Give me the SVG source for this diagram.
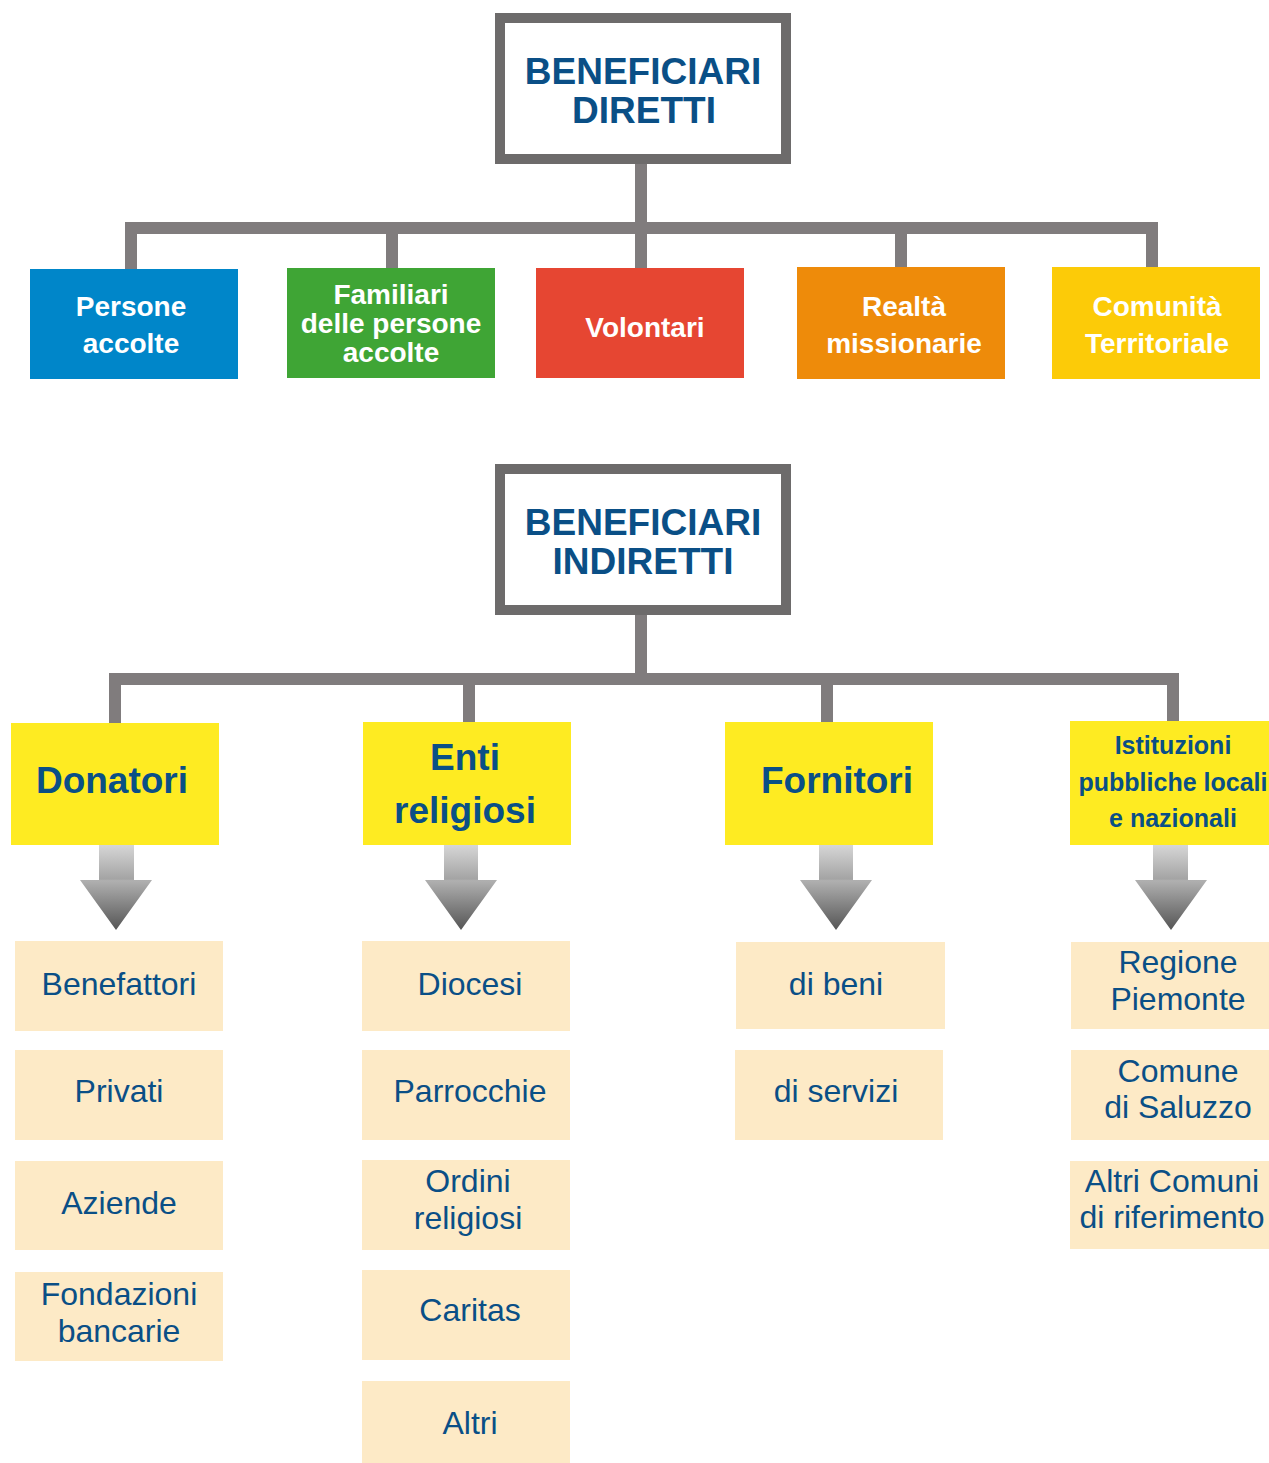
<svg xmlns="http://www.w3.org/2000/svg" width="1269" height="1463" viewBox="0 0 1269 1463">
<style>
.title{fill:#fff;stroke:#6d6b6b;stroke-width:10}
.conn{fill:none;stroke:#807c7d;stroke-width:12;stroke-linejoin:miter}
.hdr{font-family:"Liberation Sans",Arial,sans-serif;font-weight:bold;font-size:37px;fill:#0a4f86;text-anchor:middle}
.wl{font-family:"Liberation Sans",Arial,sans-serif;font-weight:bold;font-size:28px;fill:#fff;text-anchor:middle}
.yb{font-family:"Liberation Sans",Arial,sans-serif;font-weight:bold;font-size:37px;fill:#0a4f86;text-anchor:middle}
.yb2{font-family:"Liberation Sans",Arial,sans-serif;font-weight:bold;font-size:25px;fill:#0a4f86;text-anchor:middle}
.pt{font-family:"Liberation Sans",Arial,sans-serif;font-size:32px;fill:#0a4f86;text-anchor:middle}
.yel{fill:#feeb22}
.pch{fill:#fdeac6}
.arr{fill:url(#ag)}
</style>
<defs>
<linearGradient id="ag" x1="0" y1="0" x2="0" y2="1">
<stop offset="0" stop-color="#d6d6d6"/>
<stop offset="0.4" stop-color="#a4a4a4"/>
<stop offset="0.42" stop-color="#b0b0b0"/>
<stop offset="1" stop-color="#555"/>
</linearGradient>
</defs>

<g id="connectors">
<path class="conn" d="M641,163 V228"/>
<path class="conn" d="M131,269 V228 H1152 V268"/>
<path class="conn" d="M392,228 V268"/>
<path class="conn" d="M641,228 V268"/>
<path class="conn" d="M901,228 V267"/>
<path class="conn" d="M641,614 V679"/>
<path class="conn" d="M115,723 V679 H1173 V721"/>
<path class="conn" d="M469,679 V722"/>
<path class="conn" d="M827,679 V722"/>
<g id="arrows">
<path class="arr" d="M99,845 H134 V880 H152 L116,930 L80,880 H99 Z"/>
<path class="arr" d="M444,845 H478 V880 H497 L461,930 L425,880 H444 Z"/>
<path class="arr" d="M819,845 H853 V880 H872 L836,930 L800,880 H819 Z"/>
<path class="arr" d="M1153,845 H1188 V880 H1207 L1171,930 L1135,880 H1153 Z"/>
</g>
</g>

<g id="diretti">
<rect class="title" x="500" y="18" width="286" height="141"/>
<text class="hdr" x="643" y="84">BENEFICIARI</text>
<text class="hdr" x="644" y="123">DIRETTI</text>
</g>

<g id="persone">
<rect x="30" y="269" width="208" height="110" fill="#0086c9"/>
<text class="wl" x="131" y="316">Persone</text>
<text class="wl" x="131" y="353">accolte</text>
</g>
<g id="familiari">
<rect x="287" y="268" width="208" height="110" fill="#3fa535"/>
<text class="wl" x="391" y="304">Familiari</text>
<text class="wl" x="391" y="333">delle persone</text>
<text class="wl" x="391" y="362">accolte</text>
</g>
<g id="volontari">
<rect x="536" y="268" width="208" height="110" fill="#e64632"/>
<text class="wl" x="645" y="337">Volontari</text>
</g>
<g id="realta">
<rect x="797" y="267" width="208" height="112" fill="#ee8b0a"/>
<text class="wl" x="904" y="316">Realtà</text>
<text class="wl" x="904" y="353">missionarie</text>
</g>
<g id="comunita">
<rect x="1052" y="267" width="208" height="112" fill="#fccb08"/>
<text class="wl" x="1157" y="316">Comunità</text>
<text class="wl" x="1157" y="353">Territoriale</text>
</g>

<g id="indiretti">
<rect class="title" x="500" y="469" width="286" height="141"/>
<text class="hdr" x="643" y="535">BENEFICIARI</text>
<text class="hdr" x="643" y="574">INDIRETTI</text>
</g>

<g id="donatori">
<rect class="yel" x="11" y="723" width="208" height="122"/>
<text class="yb" x="112" y="793">Donatori</text>
</g>
<g id="enti">
<rect class="yel" x="363" y="722" width="208" height="123"/>
<text class="yb" x="465" y="770">Enti</text>
<text class="yb" x="465" y="823">religiosi</text>
</g>
<g id="fornitori">
<rect class="yel" x="725" y="722" width="208" height="123"/>
<text class="yb" x="837" y="793">Fornitori</text>
</g>
<g id="istituzioni">
<rect class="yel" x="1070" y="721" width="199" height="124"/>
<text class="yb2" x="1173" y="754">Istituzioni</text>
<text class="yb2" x="1173" y="791">pubbliche locali</text>
<text class="yb2" x="1173" y="827">e nazionali</text>
</g>

<g id="benefattori"><rect class="pch" x="15" y="941" width="208" height="90"/><text class="pt" x="119" y="995">Benefattori</text></g>
<g id="privati"><rect class="pch" x="15" y="1050" width="208" height="90"/><text class="pt" x="119" y="1102">Privati</text></g>
<g id="aziende"><rect class="pch" x="15" y="1161" width="208" height="89"/><text class="pt" x="119" y="1214">Aziende</text></g>
<g id="fondazioni"><rect class="pch" x="15" y="1272" width="208" height="89"/><text class="pt" x="119" y="1305">Fondazioni</text><text class="pt" x="119" y="1342">bancarie</text></g>

<g id="diocesi"><rect class="pch" x="362" y="941" width="208" height="90"/><text class="pt" x="470" y="995">Diocesi</text></g>
<g id="parrocchie"><rect class="pch" x="362" y="1050" width="208" height="90"/><text class="pt" x="470" y="1102">Parrocchie</text></g>
<g id="ordini"><rect class="pch" x="362" y="1160" width="208" height="90"/><text class="pt" x="468" y="1192">Ordini</text><text class="pt" x="468" y="1229">religiosi</text></g>
<g id="caritas"><rect class="pch" x="362" y="1270" width="208" height="90"/><text class="pt" x="470" y="1321">Caritas</text></g>
<g id="altri"><rect class="pch" x="362" y="1381" width="208" height="82"/><text class="pt" x="470" y="1434">Altri</text></g>

<g id="beni"><rect class="pch" x="736" y="942" width="209" height="87"/><text class="pt" x="836" y="995">di beni</text></g>
<g id="servizi"><rect class="pch" x="735" y="1050" width="208" height="90"/><text class="pt" x="836" y="1102">di servizi</text></g>

<g id="regione"><rect class="pch" x="1071" y="942" width="198" height="87"/><text class="pt" x="1178" y="973">Regione</text><text class="pt" x="1178" y="1010">Piemonte</text></g>
<g id="saluzzo"><rect class="pch" x="1071" y="1050" width="198" height="90"/><text class="pt" x="1178" y="1082">Comune</text><text class="pt" x="1178" y="1118">di Saluzzo</text></g>
<g id="altricomuni"><rect class="pch" x="1070" y="1161" width="199" height="88"/><text class="pt" x="1172" y="1192">Altri Comuni</text><text class="pt" x="1172" y="1228">di riferimento</text></g>
</svg>
